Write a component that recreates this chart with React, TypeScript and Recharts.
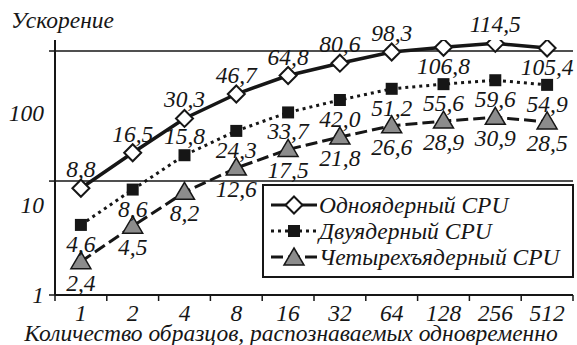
import { LineChart, Line, XAxis, YAxis, ReferenceLine, Legend, LabelList, Label } from 'recharts';

const categories = ['1', '2', '4', '8', '16', '32', '64', '128', '256', '512'];
const singleCore = [8.8, 16.5, 30.3, 46.7, 64.8, 80.6, 98.3, 106.8, 114.5, 105.4];
const dualCore = [4.6, 8.6, 15.8, 24.3, 33.7, 42.0, 51.2, 55.6, 59.6, 54.9];
const quadCore = [2.4, 4.5, 8.2, 12.6, 17.5, 21.8, 26.6, 28.9, 30.9, 28.5];
const seriesNames = ['Одноядерный CPU', 'Двуядерный CPU', 'Четырехъядерный CPU'];

// the original's log axis: bottom sits a bit above 1, top a bit above 100
const yDomain = [1.33, 121.5];
const yTicks = [1.33, 10, 100];
const yTickLabels = ['1', '10', '100'];
const gridValues = [10, 100];

// which value labels are flipped to the other side of their point
const singleBelow = [7, 9];
const dualAbove = [2];

const data = categories.map((n, i) => ({
  n,
  single: singleCore[i],
  dual: dualCore[i],
  quad: quadCore[i],
}));

const INK = '#161616';
const GRAY = '#8c8c8c';
const FONT = '"Liberation Serif", "DejaVu Serif", serif';
const FS = 23.5;
const HALF_BAND = 25.9;
const AXIS_Y = 295;
// the y labels in the source are printed below their gridlines
const Y_LABEL_SHIFT = [0, 24, 62];

const fmt = (v: number) => v.toFixed(1).replace('.', ',');

const textStyle = { fontFamily: FONT, fontStyle: 'italic' as const, fontSize: FS, fill: INK };

function Diamond(p: any) {
  const { cx, cy, index } = p;
  if (cx == null || cy == null) return <g key={`d-${index}`} />;
  const r = 8.5;
  return (
    <polygon key={`d-${index}`} points={`${cx},${cy - r} ${cx + r},${cy} ${cx},${cy + r} ${cx - r},${cy}`}
      fill="#fff" stroke={INK} strokeWidth={2} />
  );
}

function Square(p: any) {
  const { cx, cy, index } = p;
  if (cx == null || cy == null) return <g key={`s-${index}`} />;
  return <rect key={`s-${index}`} x={cx - 6} y={cy - 6} width={12} height={12} fill={INK} />;
}

function Triangle(p: any) {
  const { cx, cy, index } = p;
  if (cx == null || cy == null) return <g key={`t-${index}`} />;
  return (
    <polygon key={`t-${index}`} points={`${cx},${cy - 10} ${cx + 10},${cy + 7} ${cx - 10},${cy + 7}`}
      fill={GRAY} stroke={INK} strokeWidth={1.5} />
  );
}

function valueLabel(flip: number[], above: boolean, gap: number) {
  return (p: any) => {
    const { x, y, value, index } = p;
    if (x == null || y == null) return null;
    const up = flip.includes(index) ? !above : above;
    return (
      <text x={x} y={y + (up ? -gap : gap)} textAnchor="middle" dominantBaseline="central" {...textStyle}>
        {fmt(value)}
      </text>
    );
  };
}

function XTick(p: any) {
  const { x, payload, index } = p;
  const y = AXIS_Y;
  return (
    <g>
      {index === 0 && <line x1={x - HALF_BAND} y1={y} x2={x - HALF_BAND} y2={y + 6} stroke={INK} strokeWidth={1.5} />}
      <line x1={x + HALF_BAND} y1={y} x2={x + HALF_BAND} y2={y + 6} stroke={INK} strokeWidth={1.5} />
      <text x={x} y={y + 26} textAnchor="middle" {...textStyle}>{payload.value}</text>
    </g>
  );
}

function YTick(p: any) {
  const { x, y, payload } = p;
  const i = yTicks.indexOf(payload.value);
  return (
    <text x={x - 3} y={y + (Y_LABEL_SHIFT[i] ?? 0)} textAnchor="end" dominantBaseline="central" {...textStyle}>
      {yTickLabels[i]}
    </text>
  );
}

function LegendIcon({ kind }: { kind: number }) {
  const dash = kind === 1 ? '3 4' : kind === 2 ? '12 5' : undefined;
  return (
    <svg width={46} height={22} style={{ display: 'block', flex: 'none' }}>
      <line x1={0} y1={11} x2={46} y2={11} stroke={INK} strokeWidth={3} strokeDasharray={dash} />
      {kind === 0 && <Diamond cx={23} cy={11} index={0} />}
      {kind === 1 && <Square cx={23} cy={11} index={0} />}
      {kind === 2 && <Triangle cx={23} cy={12} index={0} />}
    </svg>
  );
}

function LegendBox() {
  return (
    <div style={{
      boxSizing: 'border-box', width: 312, height: 94, border: `2.5px solid ${INK}`, background: '#fff',
      padding: '6px 0 0 7px', fontFamily: FONT, fontStyle: 'italic', fontSize: FS, color: INK,
    }}>
      {seriesNames.map((name, i) => (
        <div key={name} style={{ display: 'flex', alignItems: 'center', height: 26, whiteSpace: 'nowrap' }}>
          <LegendIcon kind={i} />
          <span style={{ marginLeft: 2 }}>{name}</span>
        </div>
      ))}
    </div>
  );
}

export default function App() {
  return (
    <div style={{ position: 'absolute', left: 0, top: 0, background: '#fff' }}>
      <LineChart width={577} height={345} data={data} margin={{ top: 40, right: 4, bottom: 0, left: 0 }}>
        <XAxis dataKey="n" height={50} padding={{ left: HALF_BAND, right: HALF_BAND }}
          axisLine={{ stroke: INK, strokeWidth: 2 }} tickLine={false} tickSize={0} tickMargin={0}
          tick={XTick} interval={0}>
          <Label content={() => (
            <text x={291} y={341} textAnchor="middle" {...textStyle}>
              Количество образцов, распознаваемых одновременно
            </text>
          )} />
        </XAxis>
        <YAxis type="number" scale="log" domain={yDomain} ticks={yTicks} allowDataOverflow width={55}
          axisLine={{ stroke: INK, strokeWidth: 2 }} tickLine={{ stroke: INK, strokeWidth: 1.5 }}
          tick={YTick} interval={0}>
          <Label content={() => (
            <text x={11} y={28} textAnchor="start" {...textStyle}>Ускорение</text>
          )} />
        </YAxis>
        {gridValues.map((v) => (
          <ReferenceLine key={v} y={v} stroke={INK} strokeWidth={1.5} />
        ))}
        <Legend layout="vertical" align="center" verticalAlign="middle"
          wrapperStyle={{ left: 262, top: 184, width: 312, height: 94 }} content={() => <LegendBox />} />
        <Line dataKey="quad" stroke={INK} strokeWidth={3} strokeDasharray="12 5" dot={Triangle}
          activeDot={false} isAnimationActive={false}>
          <LabelList dataKey="quad" content={valueLabel([], false, 21)} />
        </Line>
        <Line dataKey="dual" stroke={INK} strokeWidth={3} strokeDasharray="3 4" dot={Square}
          activeDot={false} isAnimationActive={false}>
          <LabelList dataKey="dual" content={valueLabel(dualAbove, false, 19)} />
        </Line>
        <Line dataKey="single" stroke={INK} strokeWidth={3.5} dot={Diamond}
          activeDot={false} isAnimationActive={false}>
          <LabelList dataKey="single" content={valueLabel(singleBelow, true, 19)} />
        </Line>
      </LineChart>
    </div>
  );
}
